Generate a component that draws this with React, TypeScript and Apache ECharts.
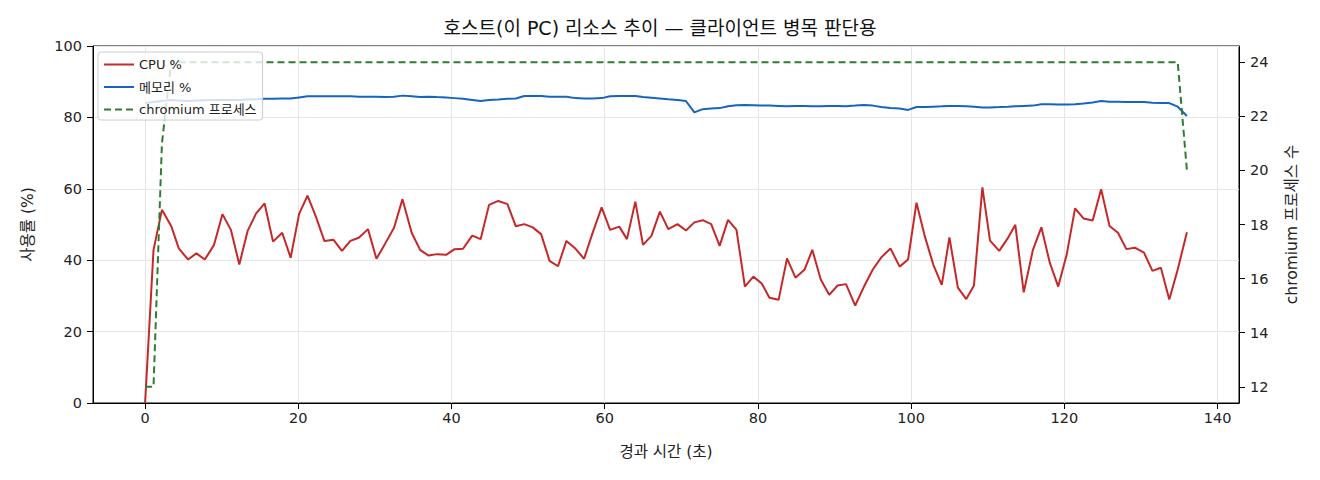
import * as echarts from "echarts";
import { useEffect, useRef } from "react";

// 경과 시간 (초) — 샘플 시각
const times = [
	0, 1.1, 2.2, 3.4, 4.4, 5.6, 6.7, 7.8, 9.0, 10.1,
	11.2, 12.3, 13.4, 14.5, 15.6, 16.7, 17.9, 19.0, 20.1, 21.2,
	22.3, 23.4, 24.6, 25.7, 26.8, 27.9, 29.1, 30.2, 31.3, 32.5,
	33.6, 34.8, 35.9, 37.0, 38.1, 39.3, 40.4, 41.5, 42.7, 43.8,
	44.9, 46.1, 47.3, 48.4, 49.5, 50.6, 51.7, 52.8, 53.9, 55.0,
	56.2, 57.3, 58.4, 59.6, 60.7, 61.9, 62.9, 64.0, 65.0, 66.1,
	67.2, 68.3, 69.5, 70.6, 71.7, 72.8, 73.9, 75.0, 76.1, 77.2,
	78.3, 79.4, 80.5, 81.5, 82.7, 83.8, 84.9, 86.1, 87.1, 88.2,
	89.3, 90.4, 91.5, 92.7, 93.8, 95.0, 96.1, 97.3, 98.5, 99.6,
	100.7, 101.8, 102.9, 104.0, 105.0, 106.1, 107.2, 108.2, 109.3, 110.3,
	111.5, 112.6, 113.6, 114.7, 115.9, 117.0, 118.1, 119.2, 120.3, 121.4,
	122.5, 123.7, 124.8, 125.9, 127.0, 128.1, 129.2, 130.4, 131.5, 132.6,
	133.7, 134.8, 136.0,
];

const cpu = [
	0, 42.9, 54.1, 49.6, 43.3, 40.2, 41.9, 40.2, 44.3, 52.9,
	48.5, 38.8, 48.3, 53.1, 55.9, 45.2, 47.7, 40.7, 52.9, 58.1,
	52.2, 45.4, 45.7, 42.6, 45.4, 46.3, 48.7, 40.4, 44.5, 49.1,
	57.1, 47.7, 42.9, 41.3, 41.7, 41.5, 43.1, 43.2, 46.9, 45.9,
	55.5, 56.6, 55.7, 49.5, 50.1, 49.2, 47.3, 39.8, 38.3, 45.4,
	43.2, 40.4, 47.5, 54.8, 48.5, 49.4, 45.9, 56.4, 44.3, 46.8,
	53.6, 48.7, 50.1, 48.3, 50.6, 51.2, 50.1, 44.0, 51.3, 48.5,
	32.6, 35.4, 33.5, 29.5, 28.9, 40.5, 35.1, 37.4, 42.9, 34.6,
	30.3, 32.9, 33.3, 27.3, 32.4, 37.4, 40.8, 43.3, 38.2, 40.2,
	56.1, 46.6, 38.7, 33.1, 46.4, 32.3, 29.1, 32.9, 60.4, 45.5,
	42.6, 46.1, 49.9, 31.0, 42.9, 49.2, 39.3, 32.6, 41.5, 54.5,
	51.7, 51.1, 59.9, 49.6, 47.7, 43.1, 43.5, 42.1, 37.0, 37.9,
	29.0, 37.4, 47.8,
];

const memory = [
	84.0, 84.3, 84.6, 84.9, 84.7, 84.6, 84.7, 84.8, 84.9, 84.9,
	84.9, 84.9, 85.0, 85.1, 85.2, 85.2, 85.3, 85.3, 85.6, 85.9,
	85.9, 85.9, 85.9, 85.9, 85.9, 85.8, 85.8, 85.8, 85.7, 85.8,
	86.1, 85.9, 85.7, 85.8, 85.7, 85.6, 85.4, 85.2, 84.9, 84.6,
	84.9, 85.0, 85.2, 85.3, 86.0, 86.0, 86.0, 85.8, 85.8, 85.8,
	85.4, 85.3, 85.3, 85.4, 85.9, 86.0, 86.0, 86.0, 85.7, 85.5,
	85.3, 85.1, 84.9, 84.6, 81.4, 82.3, 82.5, 82.6, 83.1, 83.4,
	83.5, 83.4, 83.3, 83.3, 83.2, 83.1, 83.2, 83.2, 83.1, 83.1,
	83.2, 83.2, 83.1, 83.3, 83.5, 83.3, 82.9, 82.6, 82.5, 82.1,
	82.9, 82.9, 83.0, 83.1, 83.2, 83.2, 83.1, 83.0, 82.8, 82.8,
	82.9, 83.0, 83.1, 83.2, 83.3, 83.7, 83.7, 83.6, 83.6, 83.7,
	83.9, 84.2, 84.6, 84.4, 84.4, 84.3, 84.3, 84.3, 84.1, 84.0,
	84.0, 83.0, 80.4,
];

const chromium = [
	12, 12, 21, 24, 24, 24, 24, 24, 24, 24,
	24, 24, 24, 24, 24, 24, 24, 24, 24, 24,
	24, 24, 24, 24, 24, 24, 24, 24, 24, 24,
	24, 24, 24, 24, 24, 24, 24, 24, 24, 24,
	24, 24, 24, 24, 24, 24, 24, 24, 24, 24,
	24, 24, 24, 24, 24, 24, 24, 24, 24, 24,
	24, 24, 24, 24, 24, 24, 24, 24, 24, 24,
	24, 24, 24, 24, 24, 24, 24, 24, 24, 24,
	24, 24, 24, 24, 24, 24, 24, 24, 24, 24,
	24, 24, 24, 24, 24, 24, 24, 24, 24, 24,
	24, 24, 24, 24, 24, 24, 24, 24, 24, 24,
	24, 24, 24, 24, 24, 24, 24, 24, 24, 24,
	24, 24, 20,
];

const xTicks = [0, 20, 40, 60, 80, 100, 120, 140];
const procTicks = [12, 14, 16, 18, 20, 22, 24];

// 라틴 문자는 DejaVu, 한글은 Noto CJK 로 대체
const FONT = '"DejaVu Sans", "Noto Sans CJK KR", sans-serif';
const GRID_COLOR = "#e6e6e6";

export default function HostResourceChart() {
	const chartRef = useRef<HTMLDivElement>(null);

	useEffect(() => {
		if (!chartRef.current) return;
		const chart = echarts.init(chartRef.current, null, { renderer: "svg" });

		const axisLine = { show: true, onZero: false, lineStyle: { color: "#000", width: 1 } };
		const tickStyle = { color: "#000", width: 1 };
		const nameStyle = { fontSize: 15.5, color: "#222" };

		chart.setOption({
			animation: false,
			backgroundColor: "#fff",
			textStyle: { fontFamily: FONT },
			title: {
				text: "호스트(이 PC) 리소스 추이 — 클라이언트 병목 판단용",
				left: "center",
				top: 13,
				padding: [5, 5, 5, 17],
				textStyle: { fontSize: 19, fontWeight: "normal", color: "#111", fontFamily: FONT },
			},
			legend: {
				orient: "vertical",
				left: 98,
				top: 52,
				itemWidth: 30,
				itemHeight: 14,
				itemGap: 9.5,
				padding: [6, 6, 4, 5],
				backgroundColor: "rgba(255,255,255,0.8)",
				borderColor: "#cccccc",
				borderWidth: 1,
				borderRadius: 3,
				itemStyle: { opacity: 0 },
				lineStyle: { opacity: 1 },
				textStyle: { fontSize: 13, color: "#222", fontFamily: FONT },
				data: ["CPU %", "메모리 %", "chromium 프로세스"],
			},
			grid: {
				left: 93,
				right: 81,
				top: 46,
				bottom: 77,
				show: true,
				borderColor: "#000",
				borderWidth: 1,
				backgroundColor: "transparent",
			},
			xAxis: {
				type: "value",
				min: -6.8,
				max: 142.8,
				splitNumber: 8,
				name: "경과 시간 (초)",
				nameLocation: "middle",
				nameGap: 41,
				nameTextStyle: nameStyle,
				axisLine,
				axisTick: { show: true, length: 6, customValues: xTicks, lineStyle: tickStyle },
				axisLabel: {
					customValues: xTicks,
					fontSize: 14.5,
					color: "#222",
					margin: 8,
					formatter: (v: number) => (Math.abs(v % 20) < 1e-6 ? String(v) : ""),
				},
				splitLine: { show: true, lineStyle: { color: GRID_COLOR, width: 1 } },
			},
			yAxis: [
				{
					type: "value",
					position: "left",
					min: 0,
					max: 100,
					interval: 20,
					name: "사용률 (%)",
					nameLocation: "middle",
					nameGap: 57,
					nameRotate: 90,
					nameTextStyle: nameStyle,
					axisLine,
					axisTick: { show: true, length: 6, lineStyle: tickStyle },
					axisLabel: { fontSize: 14.5, color: "#222", margin: 11 },
					splitLine: { show: true, lineStyle: { color: GRID_COLOR, width: 1 } },
				},
				{
					type: "value",
					position: "right",
					min: 11.4,
					max: 24.6,
					splitNumber: 7,
					name: "chromium 프로세스 수",
					nameLocation: "middle",
					nameGap: 45,
					nameRotate: 90,
					nameTextStyle: nameStyle,
					axisLine,
					axisTick: { show: true, length: 6, customValues: procTicks, lineStyle: tickStyle },
					axisLabel: {
						customValues: procTicks,
						fontSize: 14.5,
						color: "#222",
						margin: 11,
						formatter: (v: number) => (Math.abs(v % 2) < 1e-6 ? String(v) : ""),
					},
					splitLine: { show: false },
				},
			],
			series: [
				{
					name: "CPU %",
					type: "line",
					yAxisIndex: 0,
					data: times.map((t, i) => [t, cpu[i]]),
					symbol: "none",
					lineStyle: { color: "#c62828", width: 2 },
					itemStyle: { color: "#c62828" },
				},
				{
					name: "메모리 %",
					type: "line",
					yAxisIndex: 0,
					data: times.map((t, i) => [t, memory[i]]),
					symbol: "none",
					lineStyle: { color: "#1565c0", width: 2 },
					itemStyle: { color: "#1565c0" },
				},
				{
					name: "chromium 프로세스",
					type: "line",
					yAxisIndex: 1,
					data: times.map((t, i) => [t, chromium[i]]),
					symbol: "none",
					lineStyle: { color: "#2e7d32", width: 2, type: [7, 4] },
					itemStyle: { color: "#2e7d32" },
				},
			],
		});

		const onResize = () => chart.resize();
		window.addEventListener("resize", onResize);
		return () => {
			window.removeEventListener("resize", onResize);
			chart.dispose();
		};
	}, []);

	return (
		<div
			ref={chartRef}
			style={{ position: "absolute", left: 0, top: 0, width: 1320, height: 480 }}
		/>
	);
}
